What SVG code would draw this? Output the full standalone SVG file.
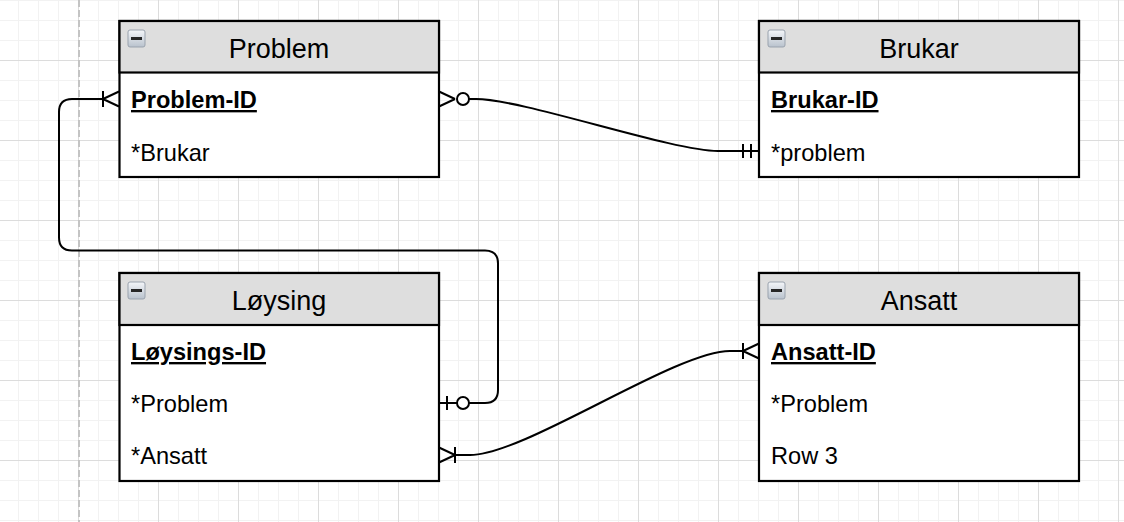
<svg xmlns="http://www.w3.org/2000/svg" xmlns:xlink="http://www.w3.org/1999/xlink" width="1124" height="522" viewBox="0 0 1124 522">
  <style>
    .box { fill: #ffffff; stroke: #000000; stroke-width: 2.2; }
    .hdr { fill: #dedede; stroke: #000000; stroke-width: 2.2; }
    .title { font-family: "Liberation Sans", Arial, sans-serif; font-size: 27px; fill: #000000; text-anchor: middle; }
    .row { font-family: "Liberation Sans", Arial, sans-serif; font-size: 23.6px; fill: #000000; }
    .key { font-weight: bold; text-decoration: underline; }
    .conn { fill: none; stroke: #000000; stroke-width: 2; }
    .dec { fill: none; stroke: #000000; stroke-width: 2; }
    .ring { fill: #ffffff; stroke: #000000; stroke-width: 2; }
  </style>
  <defs>
    <pattern id="grid" x="-2" y="-20" width="80" height="80" patternUnits="userSpaceOnUse">
      <rect x="0" y="0" width="80" height="80" fill="#ffffff"/>
      <rect x="20" y="0" width="1" height="80" fill="#f2f2f2"/>
      <rect x="40" y="0" width="1" height="80" fill="#f2f2f2"/>
      <rect x="60" y="0" width="1" height="80" fill="#f2f2f2"/>
      <rect x="0" y="20" width="80" height="1" fill="#f2f2f2"/>
      <rect x="0" y="40" width="80" height="1" fill="#f2f2f2"/>
      <rect x="0" y="60" width="80" height="1" fill="#f2f2f2"/>
      <rect x="0" y="0" width="1" height="80" fill="#dcdcdc"/>
      <rect x="0" y="0" width="80" height="1" fill="#dcdcdc"/>
    </pattern>
    <linearGradient id="iconGrad" x1="0" y1="0" x2="0" y2="1">
      <stop offset="0" stop-color="#f4f6f9"/>
      <stop offset="1" stop-color="#b9c2cd"/>
    </linearGradient>
    <g id="icon">
      <rect x="0.5" y="0.5" width="17" height="17" rx="2" fill="url(#iconGrad)" stroke="#9aa3ae" stroke-width="1"/>
      <rect x="3.5" y="7.5" width="11" height="3" fill="#262626"/>
    </g>
    <!-- decorations: entity edge at x=0, connector comes from negative x -->
    <g id="oneMany">
      <path class="dec" d="M-16,-8 L-16,8 M-16,0 L0,-7.5 M-16,0 L0,7.5"/>
    </g>
    <g id="zeroMany">
      <path class="dec" d="M-16,0 L0,-7.5 M-16,0 L0,7.5"/>
      <circle class="ring" cx="-24" cy="0" r="6"/>
    </g>
    <g id="zeroOne">
      <path class="dec" d="M-18,0 L0,0 M-8,-7 L-8,7"/>
      <circle class="ring" cx="-24" cy="0" r="6"/>
    </g>
    <g id="mandOne">
      <path class="dec" d="M-16,-7 L-16,7 M-8,-7 L-8,7"/>
    </g>
  </defs>

  <rect x="0" y="0" width="1124" height="522" fill="url(#grid)"/>
  <line x1="79" y1="0" x2="79" y2="522" stroke="#c4c4c4" stroke-width="2" stroke-dasharray="7 3"/>

  <g id="connectors">
    <path class="conn" d="M104,99 L72,99 Q59,99 59,112 L59,237.5 Q59,250.5 72,250.5 L485,250.5 Q498,250.5 498,263.5 L498,390 Q498,403 485,403 L469,403"/>
    <use xlink:href="#oneMany" href="#oneMany" transform="translate(119,99)"/>
    <use xlink:href="#zeroOne" href="#zeroOne" transform="translate(439,403) scale(-1,1)"/>

    <path class="conn" d="M469,99 L476,99 C522,99 672,151 718,151 L759,151"/>
    <use xlink:href="#zeroMany" href="#zeroMany" transform="translate(439,99) scale(-1,1)"/>
    <use xlink:href="#mandOne" href="#mandOne" transform="translate(759,151)"/>

    <path class="conn" d="M455,455 L470,455 C525,455 675,351 730,351 L743,351"/>
    <use xlink:href="#oneMany" href="#oneMany" transform="translate(439,455) scale(-1,1)"/>
    <use xlink:href="#oneMany" href="#oneMany" transform="translate(759,351)"/>
  </g>

  <g id="problem">
    <rect class="box" x="119.5" y="21" width="319.5" height="156"/>
    <rect class="hdr" x="119.5" y="21" width="319.5" height="51.5"/>
    <use xlink:href="#icon" href="#icon" transform="translate(127.5,29.5)"/>
    <text class="title" x="279" y="57.5">Problem</text>
    <text class="row key" x="131" y="108">Problem-ID</text>
    <text class="row" x="131" y="160.5">*Brukar</text>
  </g>

  <g id="brukar">
    <rect class="box" x="759" y="21" width="320" height="156"/>
    <rect class="hdr" x="759" y="21" width="320" height="51.5"/>
    <use xlink:href="#icon" href="#icon" transform="translate(767.5,29.5)"/>
    <text class="title" x="919" y="57.5">Brukar</text>
    <text class="row key" x="771" y="108">Brukar-ID</text>
    <text class="row" x="771" y="160.5">*problem</text>
  </g>

  <g id="loysing">
    <rect class="box" x="119.5" y="273" width="319.5" height="208"/>
    <rect class="hdr" x="119.5" y="273" width="319.5" height="52"/>
    <use xlink:href="#icon" href="#icon" transform="translate(127.5,281.5)"/>
    <text class="title" x="279" y="309.5">Løysing</text>
    <text class="row key" x="131" y="360">Løysings-ID</text>
    <text class="row" x="131" y="412">*Problem</text>
    <text class="row" x="131" y="464">*Ansatt</text>
  </g>

  <g id="ansatt">
    <rect class="box" x="759" y="273" width="320" height="208"/>
    <rect class="hdr" x="759" y="273" width="320" height="52"/>
    <use xlink:href="#icon" href="#icon" transform="translate(767.5,281.5)"/>
    <text class="title" x="919" y="309.5">Ansatt</text>
    <text class="row key" x="771" y="360">Ansatt-ID</text>
    <text class="row" x="771" y="412">*Problem</text>
    <text class="row" x="771" y="464">Row 3</text>
  </g>
</svg>
